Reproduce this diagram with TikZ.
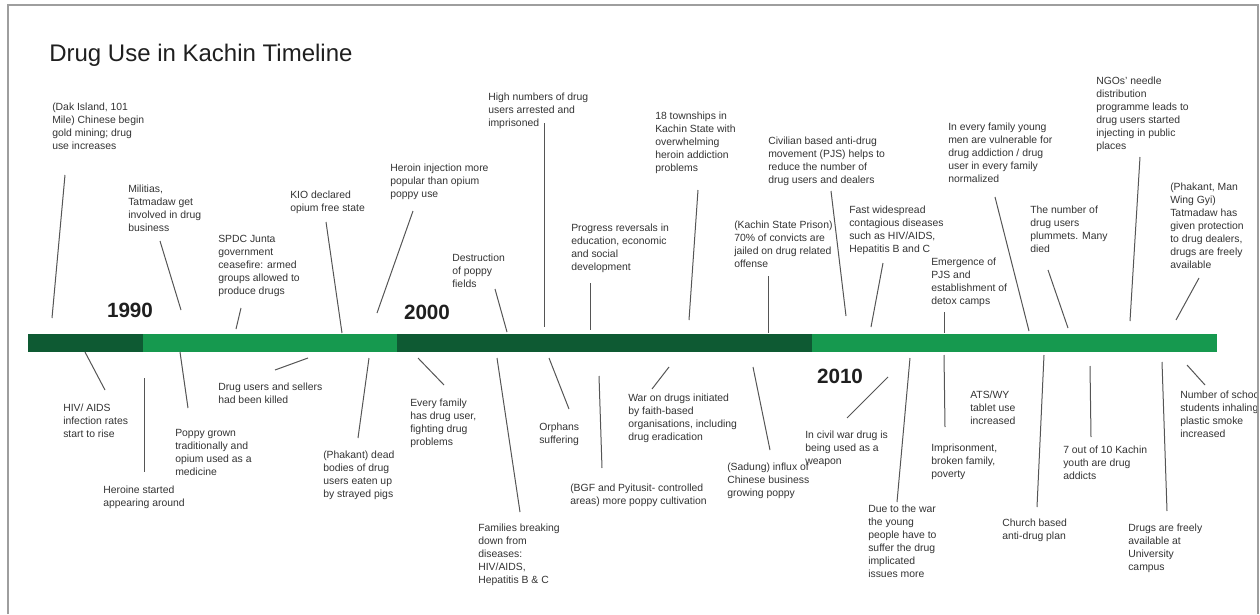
\documentclass[tikz,border=0pt]{standalone}
\usepackage{fontspec}
\setmainfont{Liberation Sans}
\definecolor{darkgrn}{HTML}{0E5A33}
\definecolor{midgrn}{HTML}{16994F}
\definecolor{framegray}{HTML}{9E9E9E}
\definecolor{txtgray}{HTML}{333333}
\definecolor{linegray}{HTML}{555555}
\begin{document}
\begin{tikzpicture}[x=0.75pt,y=-0.75pt,
  lbl/.style={anchor=north west, inner sep=0pt, align=left, text=txtgray,
    font=\fontsize{7.8}{9.75}\selectfont, execute at begin node={\rule{0pt}{6pt}}},
  lead/.style={draw=linegray, line width=0.75pt},
  yearlbl/.style={font=\fontsize{15.5}{18}\selectfont\bfseries, text=black!88, inner sep=0pt},
  seg/.style={inner sep=0pt, outer sep=0pt}]
\useasboundingbox (0,0) rectangle (1260,614);
\begin{scope}
\clip (0,0) rectangle (1257,614);
% title
\node[anchor=base west, inner sep=0pt, font=\fontsize{18}{22}\selectfont, text=black!88] (title) at (49,61) {Drug Use in Kachin Timeline};
% bar
\fill[darkgrn] (28,334) rectangle (143,352);
\fill[midgrn] (143,334) rectangle (397,352);
\fill[darkgrn] (397,334) rectangle (812,352);
\fill[midgrn] (812,334) rectangle (1217,352);
% years
\node[yearlbl] (y1990) at (130,310) {1990};
\node[yearlbl] (y2000) at (427,312) {2000};
\node[yearlbl] (y2010) at (840,376) {2010};
% top labels
\node[lbl] (n1) at (52,103) {(Dak Island, 101\\Mile) Chinese begin\\gold mining; drug\\use increases};
\node[lbl] (n2) at (128,185) {Militias,\\Tatmadaw get\\involved in drug\\business};
\node[lbl] (n3) at (218,235) {SPDC Junta\\government\\ceasefire: armed\\groups allowed to\\produce drugs};
\node[lbl] (n4) at (290,191) {KIO declared\\opium free state};
\node[lbl] (n5) at (390,164) {Heroin injection more\\popular than opium\\poppy use};
\node[lbl] (n6) at (488,93) {High numbers of drug\\users arrested and\\imprisoned};
\node[lbl] (n7) at (452,254) {Destruction\\of poppy\\fields};
\node[lbl] (n8) at (571,224) {Progress reversals in\\education, economic\\and social\\development};
\node[lbl] (n9) at (655,112) {18 townships in\\Kachin State with\\overwhelming\\heroin addiction\\problems};
\node[lbl] (n10) at (768,137) {Civilian based anti-drug\\movement (PJS) helps to\\reduce the number of\\drug users and dealers};
\node[lbl] (n11) at (734,221) {(Kachin State Prison)\\70\% of convicts are\\jailed on drug related\\offense};
\node[lbl] (n12) at (849,206) {Fast widespread\\contagious diseases\\such as HIV/AIDS,\\Hepatitis B and C};
\node[lbl] (n13) at (931,258) {Emergence of\\PJS and\\establishment of\\detox camps};
\node[lbl] (n14) at (948,123) {In every family young\\men are vulnerable for\\drug addiction / drug\\user in every family\\normalized};
\node[lbl] (n15) at (1030,206) {The number of\\drug users\\plummets. Many\\died};
\node[lbl] (n16) at (1096,77) {NGOs' needle\\distribution\\programme leads to\\drug users started\\injecting in public\\places};
\node[lbl] (n17) at (1170,183) {(Phakant, Man\\Wing Gyi)\\Tatmadaw has\\given protection\\to drug dealers,\\drugs are freely\\available};
% bottom labels
\node[lbl] (n18) at (63,404) {HIV/ AIDS\\infection rates\\start to rise};
\node[lbl] (n19) at (103,486) {Heroine started\\appearing around};
\node[lbl] (n20) at (175,429) {Poppy grown\\traditionally and\\opium used as a\\medicine};
\node[lbl] (n21) at (218,383) {Drug users and sellers\\had been killed};
\node[lbl] (n22) at (323,451) {(Phakant) dead\\bodies of drug\\users eaten up\\by strayed pigs};
\node[lbl] (n23) at (410,399) {Every family\\has drug user,\\fighting drug\\problems};
\node[lbl] (n24) at (478,524) {Families breaking\\down from\\diseases:\\HIV/AIDS,\\Hepatitis B \& C};
\node[lbl] (n25) at (539,423) {Orphans\\suffering};
\node[lbl] (n26) at (570,484) {(BGF and Pyitusit- controlled\\areas) more poppy cultivation};
\node[lbl] (n27) at (628,394) {War on drugs initiated\\by faith-based\\organisations, including\\drug eradication};
\node[lbl] (n28) at (727,463) {(Sadung) influx of\\Chinese business\\growing poppy};
\node[lbl] (n29) at (805,431) {In civil war drug is\\being used as a\\weapon};
\node[lbl] (n30) at (868,505) {Due to the war\\the young\\people have to\\suffer the drug\\implicated\\issues more};
\node[lbl] (n31) at (931,444) {Imprisonment,\\broken family,\\poverty};
\node[lbl] (n32) at (970,391) {ATS/WY\\tablet use\\increased};
\node[lbl] (n33) at (1002,519) {Church based\\anti-drug plan};
\node[lbl] (n34) at (1063,446) {7 out of 10 Kachin\\youth are drug\\addicts};
\node[lbl] (n35) at (1128,524) {Drugs are freely\\available at\\University\\campus};
\node[lbl] (n36) at (1180,391) {Number of school\\students inhaling\\plastic smoke\\increased};
% leader end points
\coordinate (a1) at (65,175);   \coordinate (b1) at (52,318);
\coordinate (a2) at (160,241);  \coordinate (b2) at (181,310);
\coordinate (a3) at (241,308);  \coordinate (b3) at (236,329);
\coordinate (a4) at (326,222);  \coordinate (b4) at (342,333);
\coordinate (a5) at (413,211);  \coordinate (b5) at (377,313);
\coordinate (a6) at (544,123);  \coordinate (b6) at (544,327);
\coordinate (a7) at (495,289);  \coordinate (b7) at (507,332);
\coordinate (a8) at (590,283);  \coordinate (b8) at (590,330);
\coordinate (a9) at (698,190);  \coordinate (b9) at (689,320);
\coordinate (a10) at (831,191); \coordinate (b10) at (846,316);
\coordinate (a11) at (768,276); \coordinate (b11) at (768,333);
\coordinate (a12) at (883,263); \coordinate (b12) at (871,327);
\coordinate (a13) at (944,312); \coordinate (b13) at (944,333);
\coordinate (a14) at (995,197); \coordinate (b14) at (1029,331);
\coordinate (a15) at (1048,270);\coordinate (b15) at (1068,328);
\coordinate (a16) at (1140,157);\coordinate (b16) at (1130,321);
\coordinate (a17) at (1199,278);\coordinate (b17) at (1176,320);
\coordinate (a18) at (85,352);  \coordinate (b18) at (105,390);
\coordinate (a19) at (144,378); \coordinate (b19) at (144,472);
\coordinate (a20) at (180,352); \coordinate (b20) at (188,408);
\coordinate (a21) at (308,358); \coordinate (b21) at (275,370);
\coordinate (a22) at (369,358); \coordinate (b22) at (358,438);
\coordinate (a23) at (418,358); \coordinate (b23) at (444,385);
\coordinate (a24) at (497,358); \coordinate (b24) at (520,512);
\coordinate (a25) at (549,358); \coordinate (b25) at (569,409);
\coordinate (a26) at (599,376); \coordinate (b26) at (602,468);
\coordinate (a27) at (669,367); \coordinate (b27) at (652,389);
\coordinate (a28) at (753,367); \coordinate (b28) at (770,450);
\coordinate (a29) at (888,377); \coordinate (b29) at (847,418);
\coordinate (a30) at (910,358); \coordinate (b30) at (897,502);
\coordinate (a31) at (944,355); \coordinate (b31) at (945,427);
\coordinate (a33) at (1044,355);\coordinate (b33) at (1037,507);
\coordinate (a34) at (1090,366);\coordinate (b34) at (1091,437);
\coordinate (a35) at (1162,362);\coordinate (b35) at (1167,511);
\coordinate (a36) at (1187,365);\coordinate (b36) at (1205,385);
\foreach \i in {1,...,31,33,34,35,36} {\draw[lead] (a\i) -- (b\i);}
\end{scope}
% frame
\draw[framegray, line width=1.7pt] (8,614) -- (8,5) -- (1258,5) -- (1258,614);
\end{tikzpicture}
\end{document}
